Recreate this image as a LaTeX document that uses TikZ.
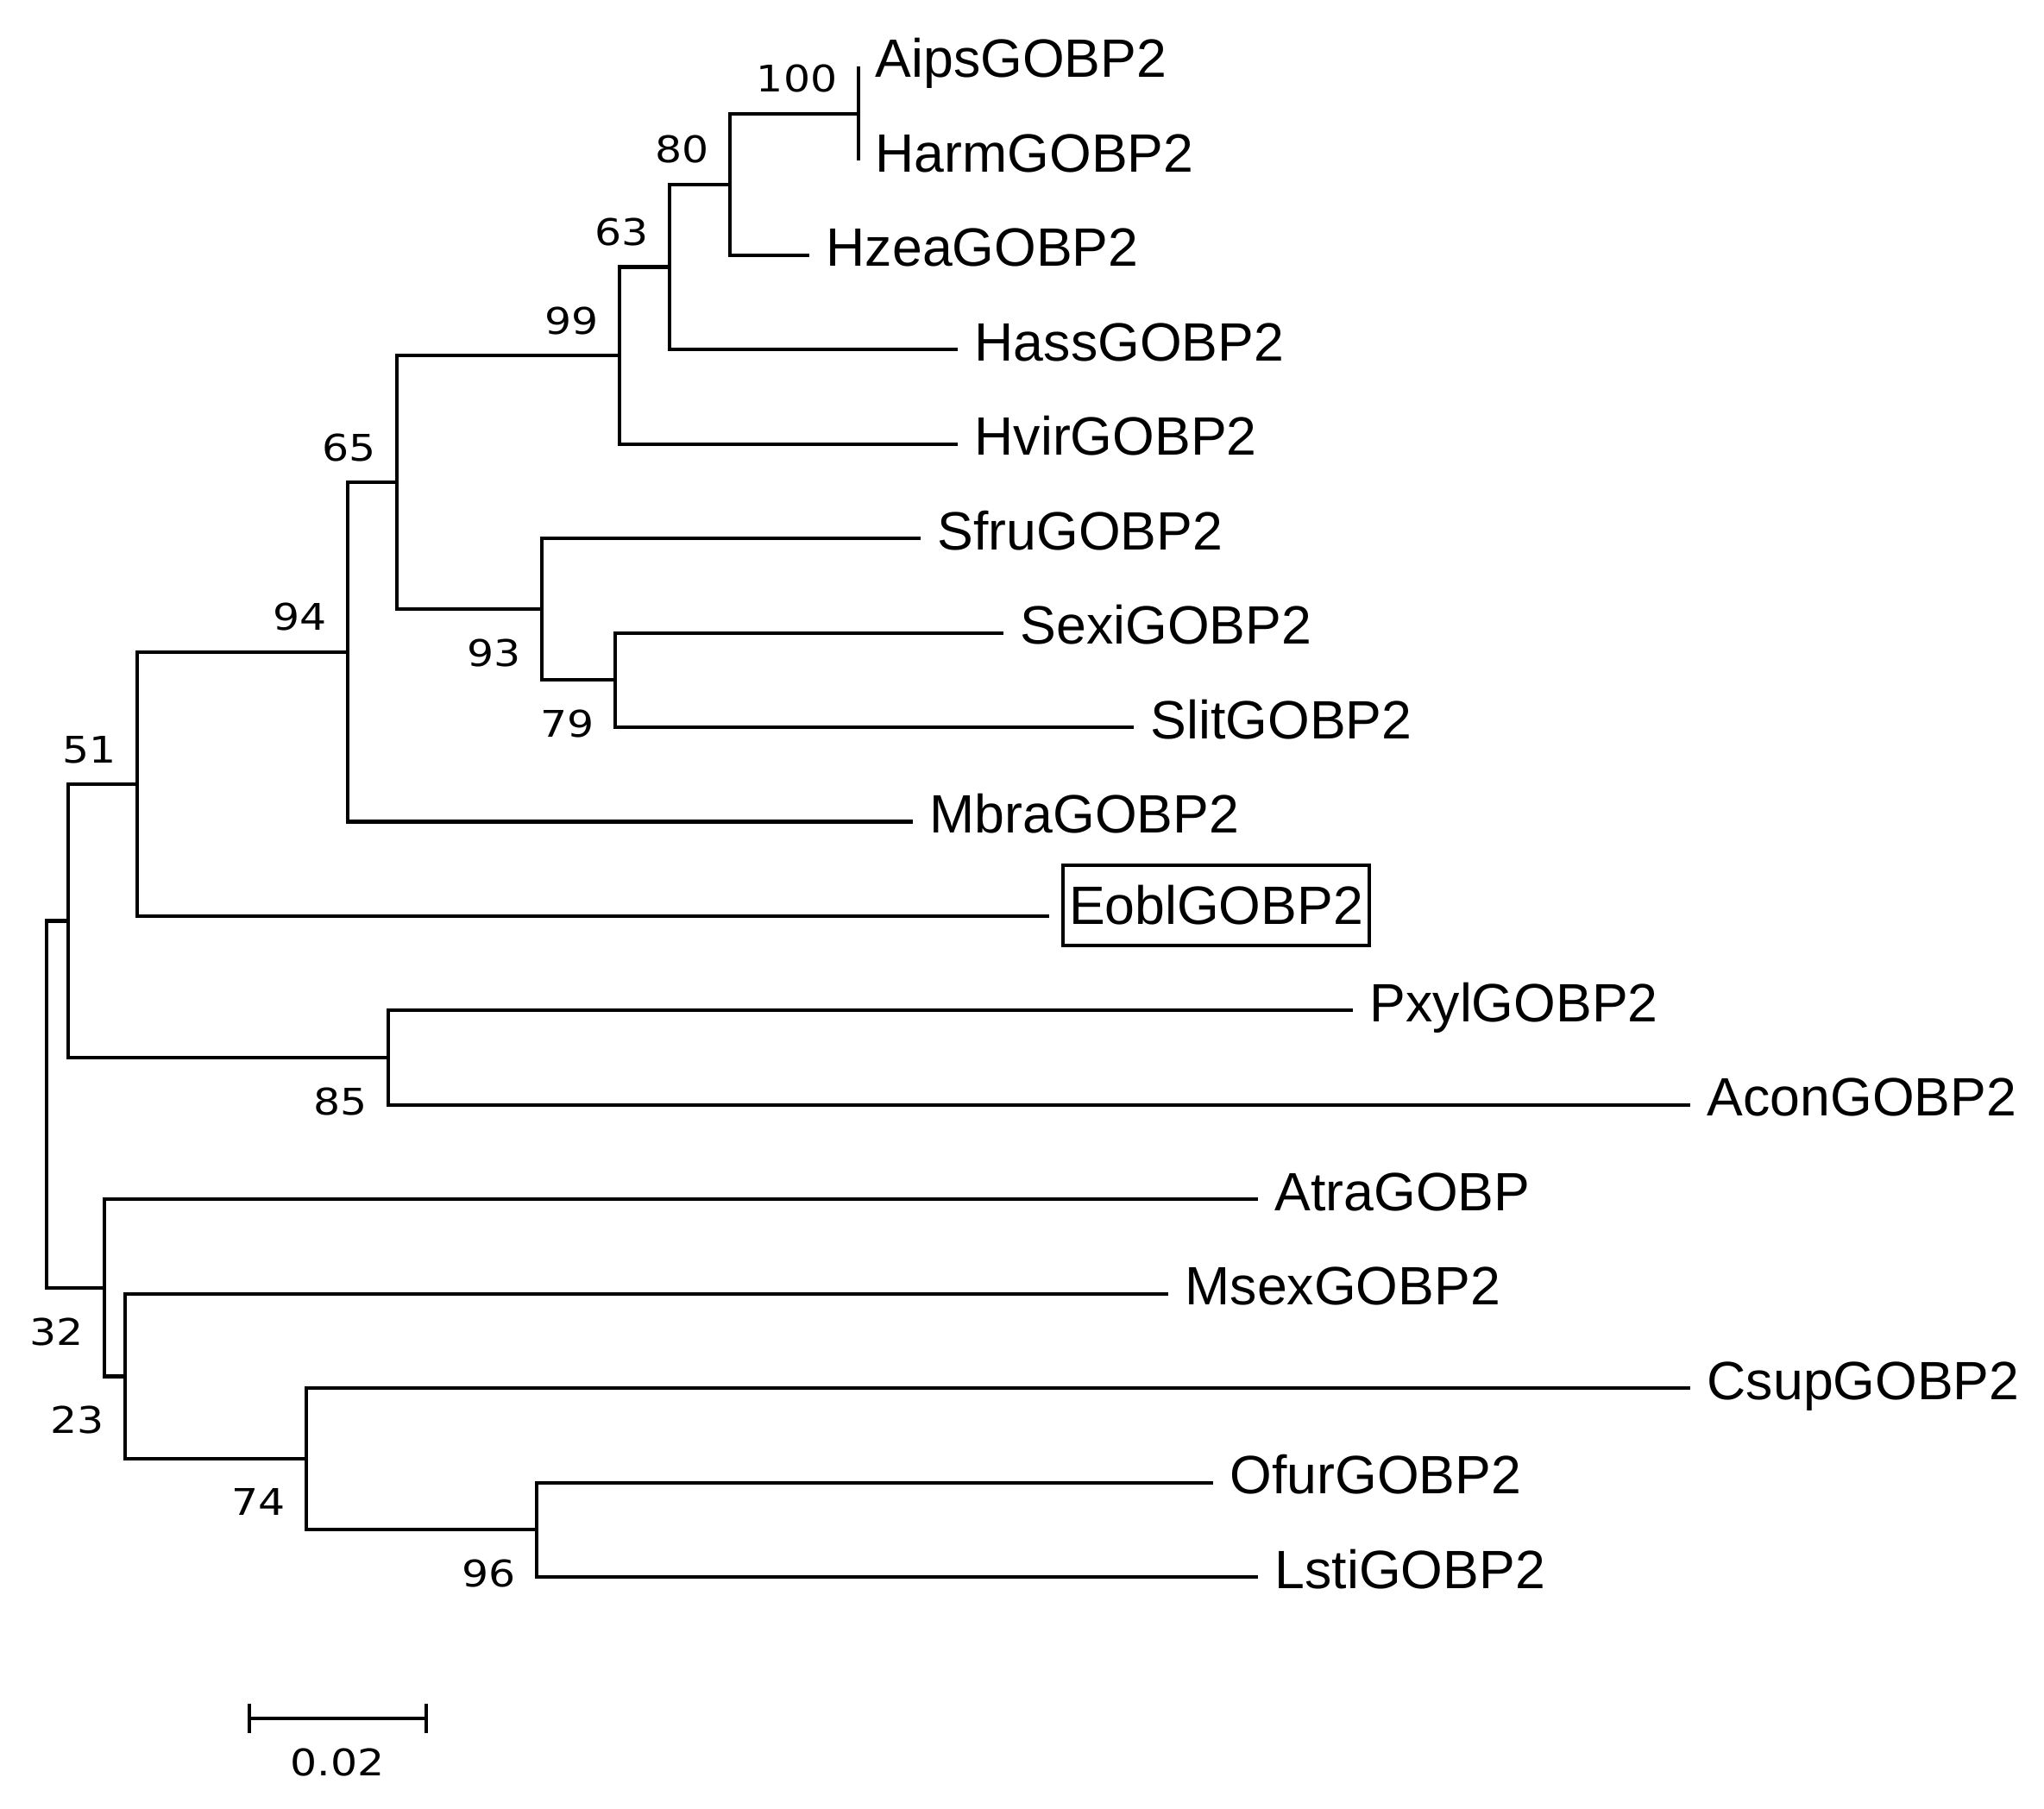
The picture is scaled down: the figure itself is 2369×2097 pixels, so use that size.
\documentclass[tikz,border=0pt]{standalone}
\usepackage{fontspec}
\setmainfont{Liberation Sans}
\newfontfamily\numfont[FakeStretch=1.15]{DejaVu Sans}
\begin{document}
\begin{tikzpicture}[x=0.01cm,y=-0.01cm,
  branch/.style={draw, line width=1.15pt},
  leaflabel/.style={anchor=base west, inner sep=0pt, font=\fontsize{17.8pt}{20pt}\selectfont},
  bs/.style={inner sep=0pt, font=\numfont\fontsize{12.1pt}{14pt}\selectfont},
  bsup/.style={bs, anchor=base east},
  bsdown/.style={bs, anchor=north east}]
\useasboundingbox (0,0) rectangle (2369,2097);
% internal nodes
\coordinate (root) at (54,1280.2);
\coordinate (nA) at (79,1067.5);
\coordinate (n51) at (159,909);
\coordinate (n94) at (403,755.9);
\coordinate (n65) at (460,559.2);
\coordinate (n99) at (718,412.2);
\coordinate (n63) at (776,309.5);
\coordinate (n80) at (846,213.8);
\coordinate (n100) at (995,131.7);
\coordinate (n93) at (628,706.3);
\coordinate (n79) at (713,788.4);
\coordinate (n85) at (450,1226.1);
\coordinate (n32) at (121,1492.9);
\coordinate (n23) at (145,1595.5);
\coordinate (n74) at (355,1691.2);
\coordinate (n96) at (622,1773.3);
% leaf tips
\coordinate (tAips) at (995,77);
\coordinate (tHarm) at (995,186.4);
\coordinate (tHzea) at (938,295.9);
\coordinate (tHass) at (1110,405.3);
\coordinate (tHvir) at (1110,514.8);
\coordinate (tSfru) at (1067,624.2);
\coordinate (tSexi) at (1163,733.6);
\coordinate (tSlit) at (1314,843.1);
\coordinate (tMbra) at (1058,952.5);
\coordinate (tEobl) at (1216,1062);
\coordinate (tPxyl) at (1568,1171.4);
\coordinate (tAcon) at (1959,1280.8);
\coordinate (tAtra) at (1458,1390.3);
\coordinate (tMsex) at (1354,1499.7);
\coordinate (tCsup) at (1959,1609.2);
\coordinate (tOfur) at (1406,1718.6);
\coordinate (tLsti) at (1458,1828);
% branches
\foreach \p/\c in {root/nA, root/n32, nA/n51, nA/n85, n51/n94, n51/tEobl,
  n94/n65, n94/tMbra, n65/n99, n65/n93, n99/n63, n99/tHvir, n63/n80, n63/tHass,
  n80/n100, n80/tHzea, n100/tAips, n100/tHarm, n93/tSfru, n93/n79,
  n79/tSexi, n79/tSlit, n85/tPxyl, n85/tAcon, n32/tAtra, n32/n23,
  n23/tMsex, n23/n74, n74/tCsup, n74/n96, n96/tOfur, n96/tLsti}
  \draw[branch] (\p) |- (\c);
% leaf labels
\foreach \n in {Aips,Harm,Hzea,Hass,Hvir,Sfru,Sexi,Slit,Mbra,Pxyl,Acon,Msex,Csup,Ofur,Lsti}
  \node[leaflabel] (l\n) at ([shift={(19,13)}]t\n) {\n GOBP2};
\node[leaflabel] (lAtra) at ([shift={(19,13)}]tAtra) {AtraGOBP};
\node[draw, line width=1.15pt, inner sep=0pt, minimum width=3.55cm, minimum height=0.93cm,
  font=\fontsize{17.8pt}{20pt}\selectfont] (lEobl) at (1409.5,1049.5) {EoblGOBP2};
% bootstrap values
\foreach \n/\v in {n100/100, n80/80, n63/63, n99/99, n65/65, n94/94, n51/51}
  \node[bsup] (b\v) at ([shift={(-24,-25)}]\n) {\v};
\foreach \n/\v in {n93/93, n79/79, n85/85, n32/32, n23/23, n74/74, n96/96}
  \node[bsdown] (b\v) at ([shift={(-24,34)}]\n) {\v};
% scale bar
\coordinate (sbL) at (289,1992);
\coordinate (sbR) at (494,1992);
\draw[branch] (sbL) -- (sbR);
\draw[branch] ([shift={(0,-17)}]sbL) -- ([shift={(0,17)}]sbL);
\draw[branch] ([shift={(0,-17)}]sbR) -- ([shift={(0,17)}]sbR);
\node[bs] (sbT) at (391,2043) {0.02};
\end{tikzpicture}
\end{document}
